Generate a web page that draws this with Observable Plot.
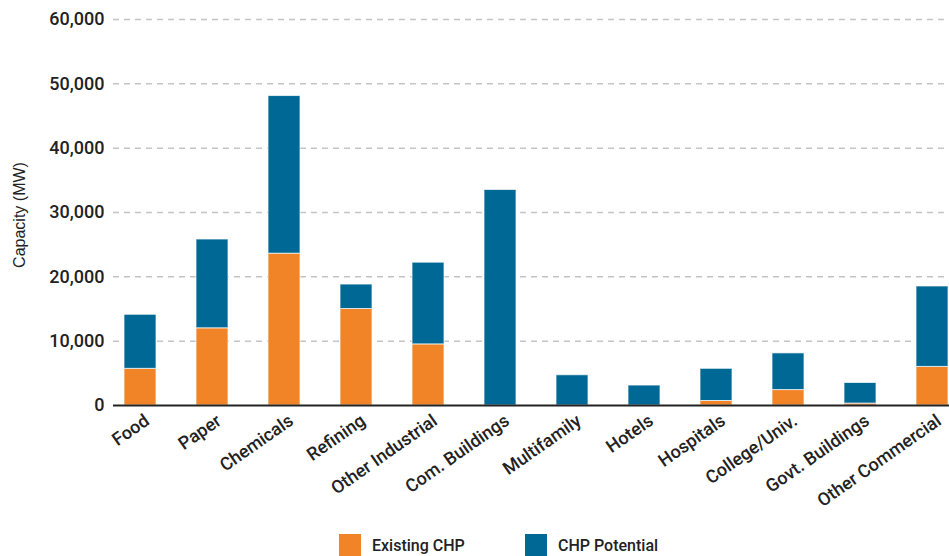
<!DOCTYPE html>
<html>
<head>
<meta charset="utf-8">
<script src="https://cdn.jsdelivr.net/npm/d3@7"></script>
<script src="https://cdn.jsdelivr.net/npm/@observablehq/plot@0.6"></script>
<style>
  html, body { margin: 0; padding: 0; background: #fff; overflow: hidden; }
  #wrap { position: relative; width: 949px; height: 556px; overflow: hidden; font-family: Roboto, "Liberation Sans", Arial, sans-serif; }
  #wrap svg { overflow: hidden; display: block; }
  .leg { position: absolute; top: 534px; height: 22px; display: flex; align-items: center; font-size: 16px; font-weight: 500; color: #222; }
  .sw { width: 22px; height: 22px; margin-right: 11px; }
</style>
</head>
<body>
<div id="wrap"></div>
<script>
const categories = ["Food", "Paper", "Chemicals", "Refining", "Other Industrial", "Com. Buildings", "Multifamily", "Hotels", "Hospitals", "College/Univ.", "Govt. Buildings", "Other Commercial"];
const existingCHP = [5700, 12000, 23600, 15000, 9500, 0, 0, 0, 700, 2400, 300, 6000];
const chpPotential = [8400, 13800, 24500, 3800, 12700, 33500, 4700, 3100, 5000, 5700, 3200, 12500];
const seriesNames = ["Existing CHP", "CHP Potential"];
const seriesColors = ["#f28428", "#006894"];
const yTicks = [0, 10000, 20000, 30000, 40000, 50000, 60000];
const yLabel = "Capacity (MW)";

const rows = [];
categories.forEach((c, i) => {
  rows.push({category: c, series: seriesNames[0], value: existingCHP[i]});
  rows.push({category: c, series: seriesNames[1], value: chpPotential[i]});
});

const chart = Plot.plot({
  width: 949,
  height: 528,
  marginLeft: 113,
  marginRight: 0,
  marginTop: 19,
  marginBottom: 123,
  style: {fontFamily: "Roboto, 'Liberation Sans', Arial, sans-serif", fontSize: "18px", color: "#222", background: "#fff"},
  x: {type: "band", domain: categories, range: [103, 969], paddingInner: 0.557, paddingOuter: 0.2785, axis: null},
  y: {domain: [0, 60000], axis: null},
  color: {domain: seriesNames, range: seriesColors},
  marks: [
    Plot.ruleY(yTicks.filter(d => d > 0), {stroke: "#c4c4c4", strokeWidth: 1.5, strokeDasharray: "6,5"}),
    Plot.barY(rows, Plot.stackY({order: seriesNames}, {x: "category", y: "value", fill: "series", stroke: "#fff", strokeOpacity: 0.7, strokeWidth: 1})),
    Plot.ruleY([0], {stroke: "#222", strokeWidth: 1.8}),
    Plot.axisY({ticks: yTicks, tickSize: 0, tickPadding: 9, tickFormat: d3.format(","), fontSize: 18, fontWeight: 500, label: null}),
    Plot.text(categories, {x: d => d, frameAnchor: "bottom", dy: 18, dx: 10, rotate: -35, textAnchor: "end", fontSize: 18, fontWeight: 500, fill: "#222"})
  ]
});

const wrap = document.getElementById("wrap");
wrap.appendChild(chart);

d3.select(chart).append("text")
  .attr("transform", "translate(25,215) rotate(-90)")
  .attr("text-anchor", "middle")
  .attr("font-family", "'Liberation Sans', Arial, sans-serif")
  .attr("font-size", 16)
  .attr("fill", "#222")
  .text(yLabel);

const legendPos = [339, 525];
seriesNames.forEach((name, i) => {
  const item = document.createElement("div");
  item.className = "leg";
  item.style.left = legendPos[i] + "px";
  const sw = document.createElement("div");
  sw.className = "sw";
  sw.style.background = seriesColors[i];
  const label = document.createElement("span");
  label.textContent = name;
  item.appendChild(sw);
  item.appendChild(label);
  wrap.appendChild(item);
});
</script>
</body>
</html>
